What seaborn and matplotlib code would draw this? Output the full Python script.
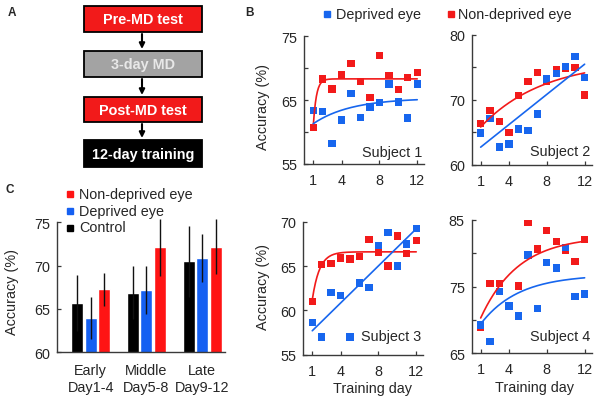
import numpy as np
import pandas as pd
import seaborn as sns
import matplotlib.pyplot as plt
from matplotlib.patches import Rectangle
from matplotlib.lines import Line2D

days = list(range(1, 13))

# panel B: accuracy (%) per training day
s1_nondep = [60.7, 68.3, 66.7, 68.9, 70.7, 67.9, 65.4, 72.0, 68.8, 66.6, 68.5, 69.3]
s1_dep = [63.4, 63.2, 58.2, 61.9, 66.0, 62.3, 63.9, 64.6, 67.5, 64.7, 62.2, 67.5]
s2_nondep = [66.3, 68.3, 66.6, 65.0, 70.6, 72.8, 74.2, 72.9, 74.6, 74.9, 75.0, 70.7]
s2_dep = [64.9, 67.1, 62.7, 63.2, 65.5, 65.3, 67.8, 73.2, 74.0, 75.1, 76.6, 73.4]
s3_nondep = [61.0, 65.15, 65.3, 65.9, 65.8, 66.05, 68.0, 66.5, 65.0, 68.4, 66.4, 67.9]
s3_dep = [58.65, 57.0, 62.0, 61.7, 57.0, 63.1, 62.6, 67.3, 68.8, 65.0, 67.5, 69.2]
s4_nondep = [68.9, 75.5, 75.5, 72.0, 75.1, 84.65, 80.65, 83.4, 81.8, 80.4, 78.75, 82.05]
s4_dep = [69.25, 66.8, 74.25, 72.1, 70.6, 79.75, 71.75, 78.65, 77.8, 80.9, 73.55, 73.9]

# fitted curves: ("exp", plateau, amplitude, rate) or ("lin", start, slope)
s1_fits = [("exp", 68.3, 7.3, 3.0), ("exp", 65.3, 4.0, 0.25)]
s2_fits = [("exp", 76.1, 10.3, 0.15), ("lin", 62.7, 1.16)]
s3_fits = [("exp", 66.6, 5.4, 1.3), ("lin", 57.7, 1.045)]
s4_fits = [("exp", 82.6, 12.3, 0.25), ("exp", 76.8, 7.4, 0.25)]

subjects = ["Subject 1", "Subject 2", "Subject 3", "Subject 4"]
ylims = [(55, 75), (60, 80), (55, 70), (65, 85)]
ytick_labels = [["55", "", "65", "", "75"], ["60", "", "70", "", "80"],
                ["55", "60", "65", "70"], ["65", "", "75", "", "85"]]

# panel C
periods = ["Early\nDay1-4", "Middle\nDay5-8", "Late\nDay9-12"]
conds = ["Control", "Deprived eye", "Non-deprived eye"]
control_mean = [65.66, 66.9, 70.5]
control_err = [3.25, 3.1, 4.1]
dep_mean = [63.96, 67.2, 70.9]
dep_err = [2.4, 2.8, 2.75]
nondep_mean = [67.3, 72.1, 72.2]
nondep_err = [1.9, 3.25, 3.2]

RED = "#f21a1a"
BLUE = "#1766ee"
SPINE = "#3a3a3a"

sns.set_style("ticks")
plt.rcParams["font.family"] = ["Liberation Sans", "DejaVu Sans"]
plt.rcParams["font.size"] = 10.4
plt.rcParams["xtick.direction"] = "in"
plt.rcParams["ytick.direction"] = "in"

fig = plt.figure(figsize=(6.01, 4.02), dpi=100)
W, H = 601.0, 402.0


def box(left, top, right, bottom):
    return [left / W, 1 - bottom / H, (right - left) / W, (bottom - top) / H]


def style_axes(ax):
    sns.despine(ax=ax)
    for s in ["left", "bottom"]:
        ax.spines[s].set_color(SPINE)
        ax.spines[s].set_linewidth(1.0)
    ax.tick_params(length=3, width=0.9, color=SPINE, pad=5, labelsize=10.4)
    ax.tick_params(axis="x", pad=6.5)


# ---- panel A flowchart ----
ax_a = fig.add_axes([0, 1 - 180 / H, 240 / W, 180 / H])
ax_a.set_xlim(0, 240)
ax_a.set_ylim(180, 0)
ax_a.axis("off")
steps = [("Pre-MD test", 7, 33, RED, "white"),
         ("3-day MD", 52, 78, "#a3a3a3", "#e8e8e8"),
         ("Post-MD test", 98, 123, RED, "white"),
         ("12-day training", 141, 168, "black", "white")]
for label, top, bot, fc, tc in steps:
    ax_a.add_patch(Rectangle((83.5, top), 118.5, bot - top, facecolor=fc,
                             edgecolor="black", lw=1.3))
    ax_a.text(143, (top + bot) / 2 + 0.5, label, color=tc, ha="center", va="center",
              fontweight="bold", fontsize=10.4)
for i in range(3):
    y0 = steps[i][2] + 2
    y1 = steps[i + 1][1] - 2
    ax_a.annotate("", xy=(142, y1), xytext=(142, y0),
                  arrowprops=dict(arrowstyle="-|>", color="black", lw=1.5,
                                  mutation_scale=8, shrinkA=0, shrinkB=0))

# ---- panel B ----
positions = [box(304.3, 37, 424.3, 165), box(471.7, 35.7, 591.7, 165.7),
             box(303.3, 222.7, 423.3, 355.7), box(471.7, 221, 591.7, 354.3)]
nondep_all = [s1_nondep, s2_nondep, s3_nondep, s4_nondep]
dep_all = [s1_dep, s2_dep, s3_dep, s4_dep]
fits_all = [s1_fits, s2_fits, s3_fits, s4_fits]
subj_y = [0.094, 0.108, 0.143, 0.132]
grid = np.linspace(1, 12, 200)


def fit_curve(fit, x):
    if fit[0] == "exp":
        return fit[1] - fit[2] * np.exp(-fit[3] * (x - 1))
    return fit[1] + fit[2] * (x - 1)


axes_b = []
for k in range(4):
    ax = fig.add_axes(positions[k])
    axes_b.append(ax)
    df = pd.DataFrame({
        "day": days + days,
        "acc": nondep_all[k] + dep_all[k],
        "eye": ["Non-deprived eye"] * 12 + ["Deprived eye"] * 12,
    })
    sns.scatterplot(data=df, x="day", y="acc", hue="eye",
                    palette={"Non-deprived eye": RED, "Deprived eye": BLUE},
                    marker="s", s=28, linewidth=0, legend=False, ax=ax, zorder=2)
    for fit, col in zip(fits_all[k], [RED, BLUE]):
        sns.lineplot(x=grid, y=fit_curve(fit, grid), color=col, lw=1.2, ax=ax, zorder=3)
    ax.set_xlim(0.05, 12.75)
    lo, hi = ylims[k]
    ax.set_ylim(lo, hi)
    ax.set_yticks(np.arange(lo, hi + 1, 5))
    ax.set_yticklabels(ytick_labels[k])
    ax.set_xticks([1, 4, 8, 12])
    ax.set_xticklabels(["1", "4", "8", "12"])
    ax.set_xlabel("")
    ax.set_ylabel("")
    style_axes(ax)
    ax.text(0.985, subj_y[k], subjects[k], transform=ax.transAxes,
            ha="right", va="center", fontsize=10.4)

axes_b[0].set_ylabel("Accuracy (%)")
axes_b[0].yaxis.set_label_coords(-0.286, 0.45)
axes_b[2].set_ylabel("Accuracy (%)")
axes_b[2].yaxis.set_label_coords(-0.277, 0.52)
axes_b[2].set_xlabel("Training day")
axes_b[2].xaxis.set_label_coords(0.578, -0.2)
axes_b[3].set_xlabel("Training day")
axes_b[3].xaxis.set_label_coords(0.527, -0.2)

# legend of panel B
for (mx, tx, lab, col) in [(327, 336, "Deprived eye", BLUE), (451, 458, "Non-deprived eye", RED)]:
    fig.add_artist(Line2D([mx / W], [1 - 15 / H], marker="s", ms=5, color=col,
                          linestyle="none", transform=fig.transFigure))
    fig.text(tx / W, 1 - 15 / H, lab, ha="left", va="center", fontsize=10.4)

# ---- panel C ----
ax_c = fig.add_axes(box(56.7, 223.3, 225, 353.3))
dfc = pd.DataFrame({
    "period": periods * 3,
    "cond": [c for c in conds for _ in periods],
    "acc": control_mean + dep_mean + nondep_mean,
})
bar_colors = {"Control": "black", "Deprived eye": "#1560f2", "Non-deprived eye": "#ff1414"}
sns.barplot(data=dfc, x="period", y="acc", hue="cond", hue_order=conds,
            palette=bar_colors, width=0.73, gap=0.11, saturation=1,
            errorbar=None, legend=False, ax=ax_c)
errs = control_err + dep_err + nondep_err
means = control_mean + dep_mean + nondep_mean
xs = [p.get_x() + p.get_width() / 2 for p in ax_c.patches[:9]]
eb = ax_c.errorbar(xs, means, yerr=errs, fmt="none", ecolor="#111111",
                   elinewidth=1.0, capsize=0)
for art in eb.lines[2]:
    art.set_clip_on(False)
ax_c.set_xlim(-0.61, 2.41)
ax_c.set_ylim(60, 75)
ax_c.set_yticks([60, 65, 70, 75])
ax_c.set_xlabel("")
ax_c.set_ylabel("Accuracy (%)")
ax_c.yaxis.set_label_coords(-0.222, 0.474)
style_axes(ax_c)
ax_c.tick_params(axis="x", length=0, pad=8)
for lab in ax_c.get_xticklabels():
    lab.set_linespacing(1.2)

legend_c = [(195, "Non-deprived eye", "#ff1414"), (212, "Deprived eye", "#1560f2"),
            (228.5, "Control", "black")]
for y, lab, col in legend_c:
    fig.add_artist(Line2D([70 / W], [1 - y / H], marker="s", ms=5, color=col,
                          linestyle="none", transform=fig.transFigure))
    fig.text(79 / W, 1 - y / H, lab, ha="left", va="center", fontsize=10.4)

# panel letters
fig.text(12 / W, 1 - 13 / H, "A", fontweight="bold", fontsize=8.5, ha="center", va="center")
fig.text(249 / W, 1 - 13 / H, "B", fontweight="bold", fontsize=8.5, ha="center", va="center")
fig.text(10 / W, 1 - 190 / H, "C", fontweight="bold", fontsize=8.5, ha="center", va="center")

fig.savefig("out.png", dpi=100)
